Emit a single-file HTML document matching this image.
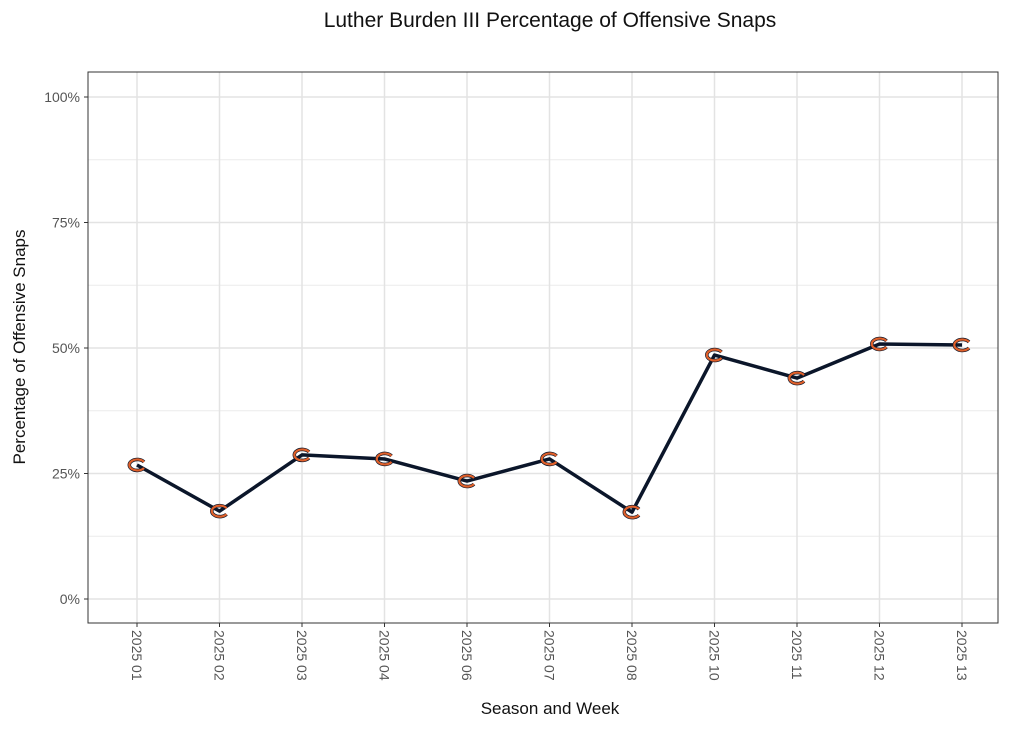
<!DOCTYPE html>
<html><head><meta charset="utf-8"><style>
body{margin:0;background:#fff;}
svg text{font-family:"Liberation Sans","DejaVu Sans",sans-serif;}
</style></head><body>
<svg id="c" width="1024" height="731" xmlns="http://www.w3.org/2000/svg">
<rect width="1024" height="731" fill="#fff"/>
<text x="550" y="27" text-anchor="middle" font-size="21" fill="#111">Luther Burden III Percentage of Offensive Snaps</text>
<g id="grid"></g>
<g id="plot"></g>
<rect x="88" y="72" width="910" height="551" fill="none" stroke="#333" stroke-width="1"/>
<g id="axes"></g>
<text x="550" y="714" text-anchor="middle" font-size="17" fill="#111">Season and Week</text>
<text transform="translate(25,347) rotate(-90)" text-anchor="middle" font-size="17" fill="#111">Percentage of Offensive Snaps</text>
</svg>
<script>
const categories=["2025 01","2025 02","2025 03","2025 04","2025 06","2025 07","2025 08","2025 10","2025 11","2025 12","2025 13"];
const values=[26.7,17.5,28.7,27.9,23.5,27.9,17.3,48.6,44.0,50.8,50.6];
const yTicks=[0,25,50,75,100];
const yTickLabels=["0%","25%","50%","75%","100%"];
const NS="http://www.w3.org/2000/svg";
const x=i=>137+i*82.5;
const y=v=>599-v*5.02;
function mk(t,a,p){const e=document.createElementNS(NS,t);for(const k in a)e.setAttribute(k,a[k]);p.appendChild(e);return e;}
const grid=document.getElementById('grid'),plot=document.getElementById('plot'),axes=document.getElementById('axes');
for(let v=12.5;v<100;v+=25){const g=mk('line',{x1:88,x2:998,y1:y(v),y2:y(v),stroke:'#ececec','stroke-width':1},grid);

}
yTicks.forEach((t,i)=>{const g=mk('line',{x1:88,x2:998,y1:y(t),y2:y(t),stroke:'#e3e3e3','stroke-width':1.5},grid);


mk('line',{x1:84,x2:88,y1:y(t),y2:y(t),stroke:'#333'},axes);
const l=mk('text',{x:80,y:y(t)+5,'text-anchor':'end','font-size':14,fill:'#555'},axes);l.textContent=yTickLabels[i];

});
categories.forEach((c,i)=>{const g=mk('line',{x1:x(i),x2:x(i),y1:72,y2:623,stroke:'#e3e3e3','stroke-width':1.5},grid);


mk('line',{x1:x(i),x2:x(i),y1:623,y2:627,stroke:'#333'},axes);
const l=mk('text',{transform:`translate(${x(i)-5},630) rotate(90)`,'font-size':14,fill:'#555'},axes);l.textContent=c;

});
const ln=mk('polyline',{points:values.map((v,i)=>x(i)+','+y(v)).join(' '),fill:'none',stroke:'#0b162a','stroke-width':3.5,'stroke-linejoin':'round'},plot);


values.forEach((v,i)=>{const g=mk('g',{transform:`translate(${x(i)},${y(v)})`},plot);


mk('path',{d:'M7,-3 A8,5.5 0 1 0 7,3',fill:'none',stroke:'#0b162a','stroke-width':3.5},g);
mk('path',{d:'M7,-3 A8,5.5 0 1 0 7,3',fill:'none',stroke:'#e0602a','stroke-width':2.2},g);});
</script>
</body></html>
